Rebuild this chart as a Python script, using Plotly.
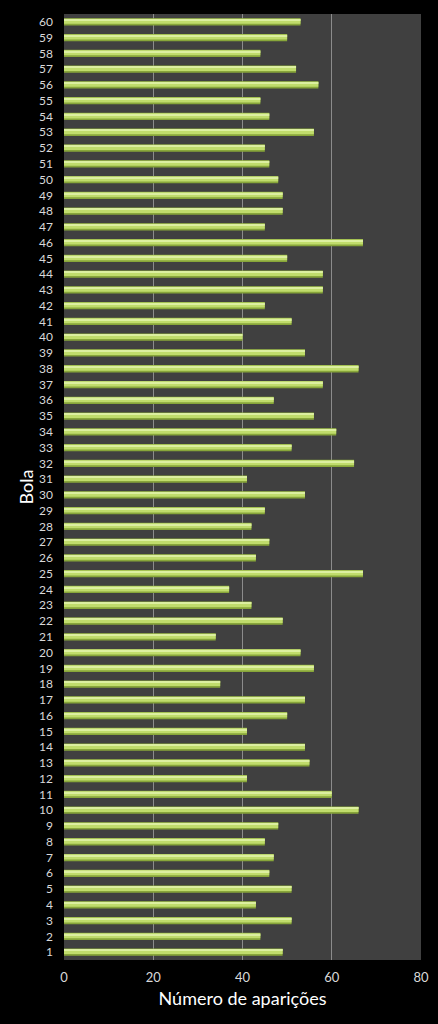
import plotly.graph_objects as go

# ball numbers 1..60 and how many times each one came out
bolas = list(range(1, 61))
aparicoes = [
    49, 44, 51, 43, 51, 46, 47, 45, 48, 66,
    60, 41, 55, 54, 41, 50, 54, 35, 56, 53,
    34, 49, 42, 37, 67, 43, 46, 42, 45, 54,
    41, 65, 51, 61, 56, 47, 58, 66, 54, 40,
    51, 45, 58, 58, 50, 67, 45, 49, 49, 48,
    46, 45, 56, 46, 44, 57, 52, 44, 50, 53,
]
x_ticks = [0, 20, 40, 60, 80]

font_name = "Lato, Open Sans, sans-serif"
text_col = "#d9d9d9"

fig = go.Figure()
# darker body of the bar (gives the shaded lower edge)
fig.add_trace(go.Bar(
    x=aparicoes, y=bolas, orientation="h",
    width=0.46, offset=-0.23,
    marker=dict(color="#88a63a", line=dict(width=0)),
))
# lighter top highlight
fig.add_trace(go.Bar(
    x=aparicoes, y=bolas, orientation="h",
    width=0.32, offset=-0.12,
    marker=dict(color="#c0dc6c", line=dict(width=0)),
))
fig.add_trace(go.Bar(
    x=aparicoes, y=bolas, orientation="h",
    width=0.09, offset=0.08,
    marker=dict(color="#dcefa0", line=dict(width=0)),
))

fig.update_layout(
    width=438, height=1024,
    barmode="overlay",
    showlegend=False,
    hovermode=False,
    paper_bgcolor="#000000",
    plot_bgcolor="#404040",
    margin=dict(l=64, r=17, t=14, b=64, autoexpand=False),
    font=dict(family=font_name, color=text_col, size=12),
    xaxis=dict(
        range=[0, 80], tickvals=x_ticks,
        showgrid=True, gridcolor="#8c8c8c", gridwidth=1,
        zeroline=False, showline=False,
        ticks="", ticklabelstandoff=8,
        tickfont=dict(size=13, color=text_col),
        title=dict(text="Número de aparições", standoff=8,
                   font=dict(size=18, color="#ffffff")),
    ),
    yaxis=dict(
        range=[0.5, 60.5], tickmode="linear", tick0=1, dtick=1,
        showgrid=False, zeroline=False, showline=False,
        ticks="", ticklabelstandoff=10,
        tickfont=dict(size=12, color=text_col),
        title=dict(text="Bola", standoff=0,
                   font=dict(size=18, color="#ffffff")),
    ),
)

# drop the default white page margin so the black background fills the window
fig.write_html(
    "out.html",
    config={"displayModeBar": False},
    post_script="document.body.style.margin='0';document.body.style.background='#000';",
)
